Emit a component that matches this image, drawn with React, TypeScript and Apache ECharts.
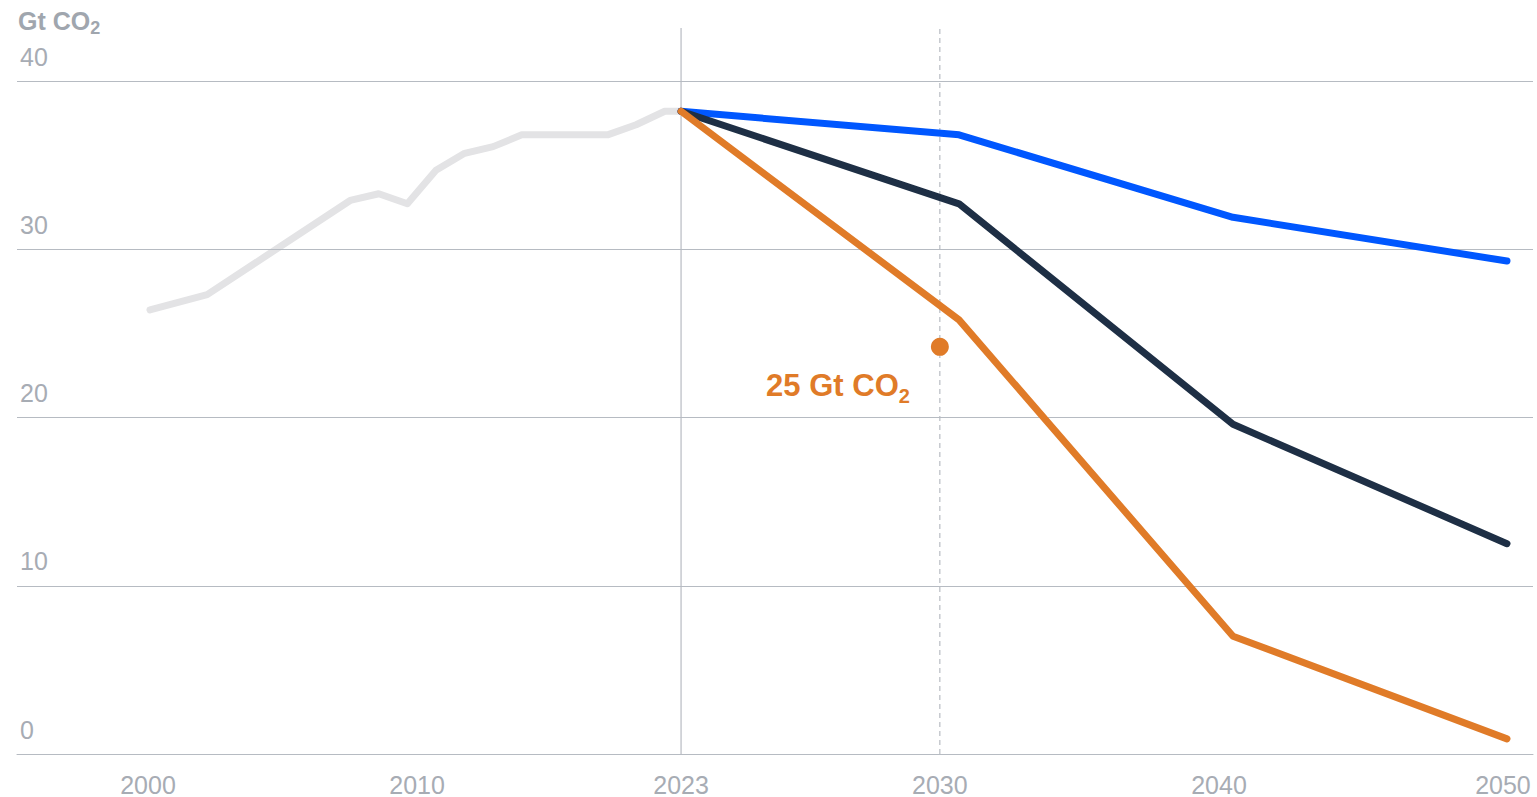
import React, { useEffect, useRef } from "react";
import * as echarts from "echarts";

// ---- Data ----
const HIST_YEARS = [2000, 2002, 2007, 2008, 2009, 2010, 2011, 2012, 2013, 2016, 2017, 2018, 2023];
const HIST_VALUES = [26.4, 27.3, 32.9, 33.3, 32.7, 34.7, 35.7, 36.1, 36.8, 36.8, 37.4, 38.2, 38.2];

const PROJ_YEARS = [2023, 2030, 2040, 2050];
const BLUE_VALUES = [38.2, 36.8, 31.9, 29.3];
const NAVY_VALUES = [38.2, 32.7, 19.6, 12.5];
const ORANGE_VALUES = [38.2, 25.8, 7.0, 0.9];

const TICK_LABELS = ["2000", "2010", "2023", "2030", "2040", "2050"];
const Y_TICKS_MAX = 40;
const TARGET_VALUE = 24.2;
const TARGET_TEXT = "25 Gt CO";

// ---- Axis layout: the x axis is not linear in years in the reference ----
const ANCHOR_YEARS = [2000, 2018, 2023, 2030, 2040, 2050];
const ANCHOR_POS = [0, 18, 18.57, 28.29, 37.87, 47.45];
// where the year labels (and the 2030 marker) sit on the x axis
const TICK_POS = [-0.07, 9.34, 18.57, 27.62, 37.38, 47.31];
const X_MIN = -4.65;
const X_MAX = 48.36;
const Y_LINE_TOP = 43.15;

function pos(year: number): number {
  for (let i = 0; i < ANCHOR_YEARS.length - 1; i++) {
    const a = ANCHOR_YEARS[i], b = ANCHOR_YEARS[i + 1];
    if (year >= a && year <= b) {
      return ANCHOR_POS[i] + ((year - a) / (b - a)) * (ANCHOR_POS[i + 1] - ANCHOR_POS[i]);
    }
  }
  return ANCHOR_POS[ANCHOR_POS.length - 1];
}

const FONT = "'Liberation Sans', Arial, Helvetica, sans-serif";
const GRID_COLOR = "#b6bbc2";
const LABEL_COLOR = "#a7acb4";
const VLINE_COLOR = "#a9aeb6";
const GREY = "#e3e3e5";
const BLUE = "#0057ff";
const NAVY = "#1e2f45";
const ORANGE = "#e07b28";

export default function App() {
  const ref = useRef<HTMLDivElement>(null);

  useEffect(() => {
    document.body.style.margin = "0";
    if (!ref.current) return;
    const chart = echarts.init(ref.current, undefined, { renderer: "svg" });

    const lineSeries = (name: string, years: number[], values: number[], color: string, z: number) => ({
      name,
      type: "line",
      data: years.map((y, i) => [pos(y), values[i]]),
      showSymbol: false,
      symbol: "none",
      z,
      lineStyle: { color, width: 7, cap: "round", join: "round" },
      silent: true,
    });

    const vLine = (x: number, type: any) => ({
      type: "line",
      data: [[x, 0], [x, Y_LINE_TOP]],
      clip: false,
      showSymbol: false,
      symbol: "none",
      silent: true,
      z: -2,
      lineStyle: { color: VLINE_COLOR, width: 1, type },
    });

    const u2023 = TICK_POS[2];
    const u2030 = TICK_POS[3];

    const option: any = {
      animation: false,
      backgroundColor: "#ffffff",
      title: {
        text: "{b|Gt CO}{s|2}",
        left: 18,
        top: 5,
        padding: 0,
        textStyle: {
          rich: {
            b: { fontFamily: FONT, fontSize: 25, fontWeight: "bold", color: "#a0a6ae", lineHeight: 32 },
            s: { fontFamily: FONT, fontSize: 18, fontWeight: "bold", color: "#a0a6ae", verticalAlign: "bottom", lineHeight: 32 },
          },
        },
      },
      grid: { left: 17, right: 4, top: 81, bottom: 43, containLabel: false },
      xAxis: {
        type: "value",
        min: X_MIN,
        max: X_MAX,
        axisLine: { show: true, lineStyle: { color: GRID_COLOR, width: 1 } },
        axisTick: { show: false },
        splitLine: { show: false },
        axisLabel: {
          customValues: TICK_POS,
          margin: 18,
          color: LABEL_COLOR,
          fontFamily: FONT,
          fontSize: 25,
          formatter: (v: number) => {
            let best = 0;
            for (let i = 1; i < TICK_POS.length; i++) {
              if (Math.abs(TICK_POS[i] - v) < Math.abs(TICK_POS[best] - v)) best = i;
            }
            return TICK_LABELS[best];
          },
        },
      },
      yAxis: {
        type: "value",
        min: 0,
        max: Y_TICKS_MAX,
        interval: 10,
        axisLine: { show: false },
        axisTick: { show: false },
        splitLine: { show: true, lineStyle: { color: GRID_COLOR, width: 1 } },
        axisLabel: {
          inside: true,
          margin: 3,
          align: "left",
          verticalAlign: "bottom",
          padding: [0, 0, 12, 0],
          color: LABEL_COLOR,
          fontFamily: FONT,
          fontSize: 25,
        },
      },
      series: [
        vLine(u2023, "solid"),
        vLine(u2030, [5, 4]),
        lineSeries("Historical", HIST_YEARS, HIST_VALUES, GREY, -1),
        lineSeries("Scenario A", PROJ_YEARS, BLUE_VALUES, BLUE, 3),
        lineSeries("Scenario B", PROJ_YEARS, NAVY_VALUES, NAVY, 4),
        lineSeries("Scenario C", PROJ_YEARS, ORANGE_VALUES, ORANGE, 5),
        {
          name: "Target",
          type: "scatter",
          z: 6,
          silent: true,
          symbol: "circle",
          symbolSize: 18,
          itemStyle: { color: ORANGE, opacity: 1 },
          data: [[u2030, TARGET_VALUE]],
          label: {
            show: true,
            position: [-21, 48],
            align: "right",
            verticalAlign: "middle",
            formatter: "{b|" + TARGET_TEXT + "}{s|2}",
            rich: {
              b: { fontFamily: FONT, fontSize: 31, fontWeight: "bold", color: ORANGE, lineHeight: 40 },
              s: { fontFamily: FONT, fontSize: 20, fontWeight: "bold", color: ORANGE, verticalAlign: "bottom", lineHeight: 40 },
            },
          },
        },
      ],
    };

    chart.setOption(option);
    const onResize = () => chart.resize();
    window.addEventListener("resize", onResize);
    return () => {
      window.removeEventListener("resize", onResize);
      chart.dispose();
    };
  }, []);

  return <div ref={ref} style={{ width: 1537, height: 797 }} />;
}
